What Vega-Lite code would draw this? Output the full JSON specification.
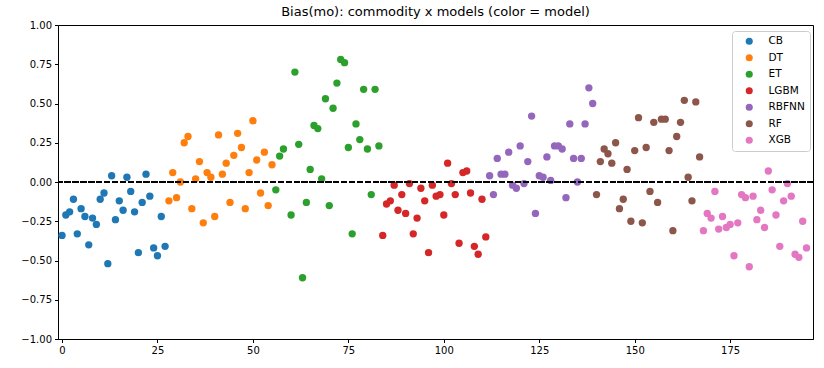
{
  "$schema": "https://vega.github.io/schema/vega-lite/v6.json",
  "width": 755,
  "height": 314,
  "autosize": {"type": "none"},
  "padding": {"left": 58, "top": 25, "right": 11, "bottom": 29},
  "background": "white",
  "title": {"text": "Bias(mo): commodity x models (color = model)", "font": "DejaVu Sans", "fontSize": 13, "fontWeight": "normal", "color": "black", "offset": 1, "anchor": "middle"},
  "config": {
    "view": {"stroke": "black", "strokeWidth": 1},
    "axis": {"labelFont": "DejaVu Sans", "labelFontSize": 10, "labelColor": "black", "tickColor": "black", "domainColor": "black", "tickSize": 3.5, "labelPadding": 3, "grid": false, "title": null, "domainWidth": 1, "tickWidth": 1, "labelOverlap": false}
  },
  "data": {"values": [
    {"i":0,"v":-0.34,"m":"CB"},{"i":1,"v":-0.21,"m":"CB"},{"i":2,"v":-0.19,"m":"CB"},{"i":3,"v":-0.11,"m":"CB"},{"i":4,"v":-0.33,"m":"CB"},{"i":5,"v":-0.17,"m":"CB"},{"i":6,"v":-0.22,"m":"CB"},{"i":7,"v":-0.40,"m":"CB"},{"i":8,"v":-0.23,"m":"CB"},{"i":9,"v":-0.27,"m":"CB"},{"i":10,"v":-0.11,"m":"CB"},{"i":11,"v":-0.07,"m":"CB"},{"i":12,"v":-0.52,"m":"CB"},{"i":13,"v":0.04,"m":"CB"},{"i":14,"v":-0.24,"m":"CB"},{"i":15,"v":-0.12,"m":"CB"},{"i":16,"v":-0.18,"m":"CB"},{"i":17,"v":0.03,"m":"CB"},{"i":18,"v":-0.06,"m":"CB"},{"i":19,"v":-0.19,"m":"CB"},{"i":20,"v":-0.45,"m":"CB"},{"i":21,"v":-0.13,"m":"CB"},{"i":22,"v":0.05,"m":"CB"},{"i":23,"v":-0.09,"m":"CB"},{"i":24,"v":-0.42,"m":"CB"},{"i":25,"v":-0.47,"m":"CB"},{"i":26,"v":-0.22,"m":"CB"},{"i":27,"v":-0.41,"m":"CB"},
    {"i":28,"v":-0.12,"m":"DT"},{"i":29,"v":0.06,"m":"DT"},{"i":30,"v":-0.10,"m":"DT"},{"i":31,"v":0.00,"m":"DT"},{"i":32,"v":0.25,"m":"DT"},{"i":33,"v":0.29,"m":"DT"},{"i":34,"v":-0.17,"m":"DT"},{"i":35,"v":0.02,"m":"DT"},{"i":36,"v":0.13,"m":"DT"},{"i":37,"v":-0.26,"m":"DT"},{"i":38,"v":0.06,"m":"DT"},{"i":39,"v":0.03,"m":"DT"},{"i":40,"v":-0.22,"m":"DT"},{"i":41,"v":0.30,"m":"DT"},{"i":42,"v":0.05,"m":"DT"},{"i":43,"v":0.12,"m":"DT"},{"i":44,"v":-0.13,"m":"DT"},{"i":45,"v":0.17,"m":"DT"},{"i":46,"v":0.31,"m":"DT"},{"i":47,"v":0.22,"m":"DT"},{"i":48,"v":-0.17,"m":"DT"},{"i":49,"v":0.06,"m":"DT"},{"i":50,"v":0.39,"m":"DT"},{"i":51,"v":0.14,"m":"DT"},{"i":52,"v":-0.07,"m":"DT"},{"i":53,"v":0.19,"m":"DT"},{"i":54,"v":-0.15,"m":"DT"},{"i":55,"v":0.11,"m":"DT"},
    {"i":56,"v":-0.05,"m":"ET"},{"i":57,"v":0.165,"m":"ET"},{"i":58,"v":0.21,"m":"ET"},{"i":60,"v":-0.21,"m":"ET"},{"i":61,"v":0.70,"m":"ET"},{"i":62,"v":0.24,"m":"ET"},{"i":63,"v":-0.61,"m":"ET"},{"i":64,"v":-0.13,"m":"ET"},{"i":65,"v":0.08,"m":"ET"},{"i":66,"v":0.36,"m":"ET"},{"i":67,"v":0.34,"m":"ET"},{"i":68,"v":0.02,"m":"ET"},{"i":69,"v":0.53,"m":"ET"},{"i":70,"v":-0.15,"m":"ET"},{"i":71,"v":0.47,"m":"ET"},{"i":72,"v":0.63,"m":"ET"},{"i":73,"v":0.78,"m":"ET"},{"i":74,"v":0.76,"m":"ET"},{"i":75,"v":0.22,"m":"ET"},{"i":76,"v":-0.33,"m":"ET"},{"i":77,"v":0.37,"m":"ET"},{"i":78,"v":0.27,"m":"ET"},{"i":79,"v":0.59,"m":"ET"},{"i":80,"v":0.21,"m":"ET"},{"i":81,"v":-0.08,"m":"ET"},{"i":82,"v":0.59,"m":"ET"},{"i":83,"v":0.23,"m":"ET"},
    {"i":84,"v":-0.34,"m":"LGBM"},{"i":85,"v":-0.14,"m":"LGBM"},{"i":86,"v":-0.12,"m":"LGBM"},{"i":87,"v":-0.02,"m":"LGBM"},{"i":88,"v":-0.18,"m":"LGBM"},{"i":89,"v":-0.08,"m":"LGBM"},{"i":90,"v":-0.20,"m":"LGBM"},{"i":91,"v":-0.01,"m":"LGBM"},{"i":92,"v":-0.33,"m":"LGBM"},{"i":93,"v":-0.23,"m":"LGBM"},{"i":94,"v":-0.04,"m":"LGBM"},{"i":95,"v":-0.12,"m":"LGBM"},{"i":96,"v":-0.45,"m":"LGBM"},{"i":97,"v":-0.02,"m":"LGBM"},{"i":98,"v":-0.09,"m":"LGBM"},{"i":99,"v":-0.08,"m":"LGBM"},{"i":100,"v":-0.21,"m":"LGBM"},{"i":101,"v":0.12,"m":"LGBM"},{"i":102,"v":-0.01,"m":"LGBM"},{"i":103,"v":-0.08,"m":"LGBM"},{"i":104,"v":-0.39,"m":"LGBM"},{"i":105,"v":0.06,"m":"LGBM"},{"i":106,"v":0.07,"m":"LGBM"},{"i":107,"v":-0.07,"m":"LGBM"},{"i":108,"v":-0.41,"m":"LGBM"},{"i":109,"v":-0.46,"m":"LGBM"},{"i":110,"v":-0.11,"m":"LGBM"},{"i":111,"v":-0.35,"m":"LGBM"},
    {"i":112,"v":0.04,"m":"RBFNN"},{"i":113,"v":-0.08,"m":"RBFNN"},{"i":114,"v":0.15,"m":"RBFNN"},{"i":115,"v":0.05,"m":"RBFNN"},{"i":116,"v":0.05,"m":"RBFNN"},{"i":117,"v":0.19,"m":"RBFNN"},{"i":118,"v":-0.02,"m":"RBFNN"},{"i":119,"v":-0.04,"m":"RBFNN"},{"i":120,"v":0.23,"m":"RBFNN"},{"i":121,"v":-0.01,"m":"RBFNN"},{"i":122,"v":0.13,"m":"RBFNN"},{"i":123,"v":0.42,"m":"RBFNN"},{"i":124,"v":-0.20,"m":"RBFNN"},{"i":125,"v":0.04,"m":"RBFNN"},{"i":126,"v":0.03,"m":"RBFNN"},{"i":127,"v":0.16,"m":"RBFNN"},{"i":128,"v":0.01,"m":"RBFNN"},{"i":129,"v":0.23,"m":"RBFNN"},{"i":130,"v":0.23,"m":"RBFNN"},{"i":131,"v":0.21,"m":"RBFNN"},{"i":132,"v":-0.10,"m":"RBFNN"},{"i":133,"v":0.37,"m":"RBFNN"},{"i":134,"v":0.15,"m":"RBFNN"},{"i":135,"v":0.00,"m":"RBFNN"},{"i":136,"v":0.15,"m":"RBFNN"},{"i":137,"v":0.37,"m":"RBFNN"},{"i":138,"v":0.60,"m":"RBFNN"},{"i":139,"v":0.50,"m":"RBFNN"},
    {"i":140,"v":-0.08,"m":"RF"},{"i":141,"v":0.13,"m":"RF"},{"i":142,"v":0.21,"m":"RF"},{"i":143,"v":0.18,"m":"RF"},{"i":144,"v":0.12,"m":"RF"},{"i":145,"v":0.25,"m":"RF"},{"i":146,"v":-0.17,"m":"RF"},{"i":147,"v":-0.11,"m":"RF"},{"i":148,"v":0.08,"m":"RF"},{"i":149,"v":-0.25,"m":"RF"},{"i":150,"v":0.20,"m":"RF"},{"i":151,"v":0.41,"m":"RF"},{"i":152,"v":-0.26,"m":"RF"},{"i":153,"v":0.22,"m":"RF"},{"i":154,"v":-0.06,"m":"RF"},{"i":155,"v":0.38,"m":"RF"},{"i":156,"v":-0.13,"m":"RF"},{"i":157,"v":0.40,"m":"RF"},{"i":158,"v":0.40,"m":"RF"},{"i":159,"v":0.20,"m":"RF"},{"i":160,"v":-0.31,"m":"RF"},{"i":161,"v":0.29,"m":"RF"},{"i":162,"v":0.38,"m":"RF"},{"i":163,"v":0.52,"m":"RF"},{"i":164,"v":0.03,"m":"RF"},{"i":165,"v":-0.12,"m":"RF"},{"i":166,"v":0.51,"m":"RF"},{"i":167,"v":0.16,"m":"RF"},
    {"i":168,"v":-0.31,"m":"XGB"},{"i":169,"v":-0.20,"m":"XGB"},{"i":170,"v":-0.23,"m":"XGB"},{"i":171,"v":-0.06,"m":"XGB"},{"i":172,"v":-0.30,"m":"XGB"},{"i":173,"v":-0.22,"m":"XGB"},{"i":174,"v":-0.29,"m":"XGB"},{"i":175,"v":-0.27,"m":"XGB"},{"i":176,"v":-0.47,"m":"XGB"},{"i":177,"v":-0.26,"m":"XGB"},{"i":178,"v":-0.08,"m":"XGB"},{"i":179,"v":-0.10,"m":"XGB"},{"i":180,"v":-0.54,"m":"XGB"},{"i":181,"v":-0.09,"m":"XGB"},{"i":182,"v":-0.24,"m":"XGB"},{"i":183,"v":-0.18,"m":"XGB"},{"i":184,"v":-0.29,"m":"XGB"},{"i":185,"v":0.07,"m":"XGB"},{"i":186,"v":-0.05,"m":"XGB"},{"i":187,"v":-0.21,"m":"XGB"},{"i":188,"v":-0.41,"m":"XGB"},{"i":189,"v":-0.12,"m":"XGB"},{"i":190,"v":-0.01,"m":"XGB"},{"i":191,"v":-0.09,"m":"XGB"},{"i":192,"v":-0.46,"m":"XGB"},{"i":193,"v":-0.48,"m":"XGB"},{"i":194,"v":-0.25,"m":"XGB"},{"i":195,"v":-0.42,"m":"XGB"}
  ]},
  "layer": [
    {
      "mark": {"type": "point", "shape": "circle", "filled": true, "opacity": 1, "size": 54, "strokeWidth": 0},
      "encoding": {
        "x": {"field": "i", "type": "quantitative", "scale": {"domain": [-1.05, 196.7], "nice": false, "zero": false}, "axis": {"values": [0, 25, 50, 75, 100, 125, 150, 175], "format": "d"}},
        "y": {"field": "v", "type": "quantitative", "scale": {"domain": [-1, 1], "nice": false}, "axis": {"values": [-1, -0.75, -0.5, -0.25, 0, 0.25, 0.5, 0.75, 1], "format": ".2f", "labelOverlap": false}},
        "color": {"field": "m", "type": "nominal", "scale": {"domain": ["CB", "DT", "ET", "LGBM", "RBFNN", "RF", "XGB"], "range": ["#1f77b4", "#ff7f0e", "#2ca02c", "#d62728", "#9467bd", "#8c564b", "#e377c2"]},
          "legend": {"title": null, "orient": "none", "legendX": 674, "legendY": 6, "symbolType": "circle", "symbolSize": 50, "symbolStrokeWidth": 0, "labelFont": "DejaVu Sans", "labelFontSize": 10.5, "labelColor": "black", "labelOffset": 14, "symbolOffset": 7, "padding": 5, "rowPadding": 5.5, "strokeColor": "#cccccc", "fillColor": "white", "cornerRadius": 3}}
      }
    },
    {
      "mark": {"type": "rule", "color": "black", "strokeWidth": 1.5, "strokeDash": [5.5, 2.4]},
      "encoding": {"y": {"datum": 0, "type": "quantitative", "axis": {"values": [-1, -0.75, -0.5, -0.25, 0, 0.25, 0.5, 0.75, 1], "format": ".2f", "labelOverlap": false}}}
    }
  ]
}
